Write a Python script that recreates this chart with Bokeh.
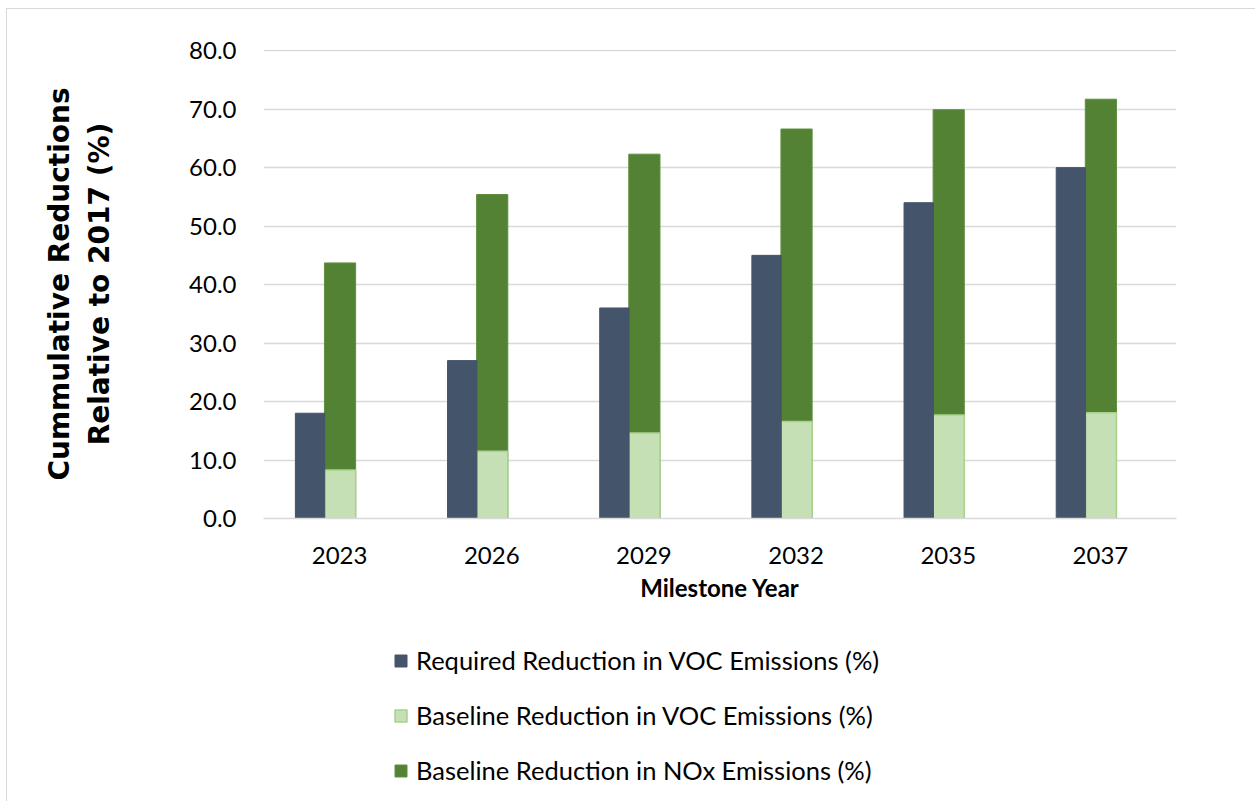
from bokeh.plotting import figure
from bokeh.models import FactorRange, Range1d, ColumnDataSource, FixedTicker, PrintfTickFormatter, Legend, LegendItem
from bokeh.layouts import column
from bokeh.transform import dodge
from bokeh.embed import file_html
from bokeh.resources import INLINE

years = ["2023", "2026", "2029", "2032", "2035", "2037"]
required_voc = [18.0, 27.0, 36.0, 45.0, 54.0, 60.0]
baseline_voc = [8.3, 11.5, 14.6, 16.6, 17.7, 18.1]
baseline_nox = [43.7, 55.4, 62.3, 66.6, 69.9, 71.7]

series_labels = ["Required Reduction in VOC Emissions (%)",
                 "Baseline Reduction in VOC Emissions (%)",
                 "Baseline Reduction in NOx Emissions (%)"]

FONT = "Lato"
C_REQ, C_REQ_L = "#44546A", "#44546A"
C_VOC, C_VOC_L = "#C5E0B4", "#A9D18E"
C_NOX, C_NOX_L = "#548235", "#5E8E3E"

src = ColumnDataSource(dict(years=years, req=required_voc, bvoc=baseline_voc, bnox=baseline_nox))


def add_bars(fig):
    r_nox = fig.vbar(x=dodge("years", 0.003, range=fig.x_range), top="bnox", width=0.205, source=src,
                     fill_color=C_NOX, line_color=C_NOX_L, line_width=1)
    r_voc = fig.vbar(x=dodge("years", 0.003, range=fig.x_range), top="bvoc", width=0.205, source=src,
                     fill_color=C_VOC, line_color=C_VOC_L, line_width=1.5)
    r_req = fig.vbar(x=dodge("years", -0.194, range=fig.x_range), top="req", width=0.193, source=src,
                     fill_color=C_REQ, line_color=C_REQ_L, line_width=1)
    return r_req, r_voc, r_nox


p = figure(x_range=FactorRange(*years), y_range=Range1d(0, 80.2),
           width=1249, height=611, output_backend="svg", toolbar_location=None,
           min_border_left=256, min_border_right=80, min_border_top=40, min_border_bottom=102)
p.outline_line_color = None
add_bars(p)

p.xgrid.grid_line_color = None
p.ygrid.grid_line_color = "#D9D9D9"
p.ygrid.grid_line_width = 1.5

p.yaxis.ticker = FixedTicker(ticks=[0, 10, 20, 30, 40, 50, 60, 70, 80])
p.yaxis.formatter = PrintfTickFormatter(format="%.1f")
p.yaxis.axis_line_color = None
p.yaxis.major_tick_line_color = None
p.yaxis.minor_tick_line_color = None
p.yaxis.major_label_standoff = 21
p.yaxis.axis_label = "Cummulative Reductions\nRelative to 2017 (%)"
p.yaxis.axis_label_standoff = 70

p.xaxis.axis_line_color = "#D9D9D9"
p.xaxis.axis_line_width = 1.5
p.xaxis.major_tick_line_color = None
p.xaxis.minor_tick_line_color = None
p.xaxis.major_label_standoff = 22
p.xaxis.axis_label = "Milestone Year"
p.xaxis.axis_label_standoff = 6

for ax in (p.xaxis, p.yaxis):
    ax.major_label_text_font = FONT
    ax.major_label_text_font_size = "24px"
    ax.major_label_text_color = "#000000"
    ax.axis_label_text_font_style = "bold"
    ax.axis_label_text_color = "#000000"
p.xaxis.axis_label_text_font = FONT
p.xaxis.axis_label_text_font_size = "24px"
p.yaxis.axis_label_text_font = "DejaVu Sans"
p.yaxis.axis_label_text_font_size = "28px"

# legend panel: the same series, on a factor range that shows none of the years
p2 = figure(width=1249, height=182, output_backend="svg", toolbar_location=None,
            x_range=FactorRange("legend"), y_range=Range1d(0, 80),
            x_axis_location=None, y_axis_location=None,
            min_border=0)
p2.outline_line_color = None
p2.grid.grid_line_color = None
l_req, l_voc, l_nox = add_bars(p2)

legend = Legend(items=[
    LegendItem(label=series_labels[0], renderers=[l_req]),
    LegendItem(label=series_labels[1], renderers=[l_voc]),
    LegendItem(label=series_labels[2], renderers=[l_nox]),
], location=(130, 17))
legend.orientation = "vertical"
legend.border_line_color = None
legend.background_fill_alpha = 0
legend.padding = 0
legend.margin = 0
legend.spacing = 25
legend.glyph_width = 15
legend.glyph_height = 15
legend.label_height = 24
legend.label_standoff = 8
legend.label_text_font = FONT
legend.label_text_font_size = "25.5px"
legend.label_text_color = "#000000"
p2.add_layout(legend, "center")

layout = column(p, p2, spacing=0)
layout.margin = (9, 0, 0, 7)
layout.styles = {"box-shadow": "-1px -1px 0 #D9D9D9"}

open("out.html", "w").write(file_html(layout, INLINE))
